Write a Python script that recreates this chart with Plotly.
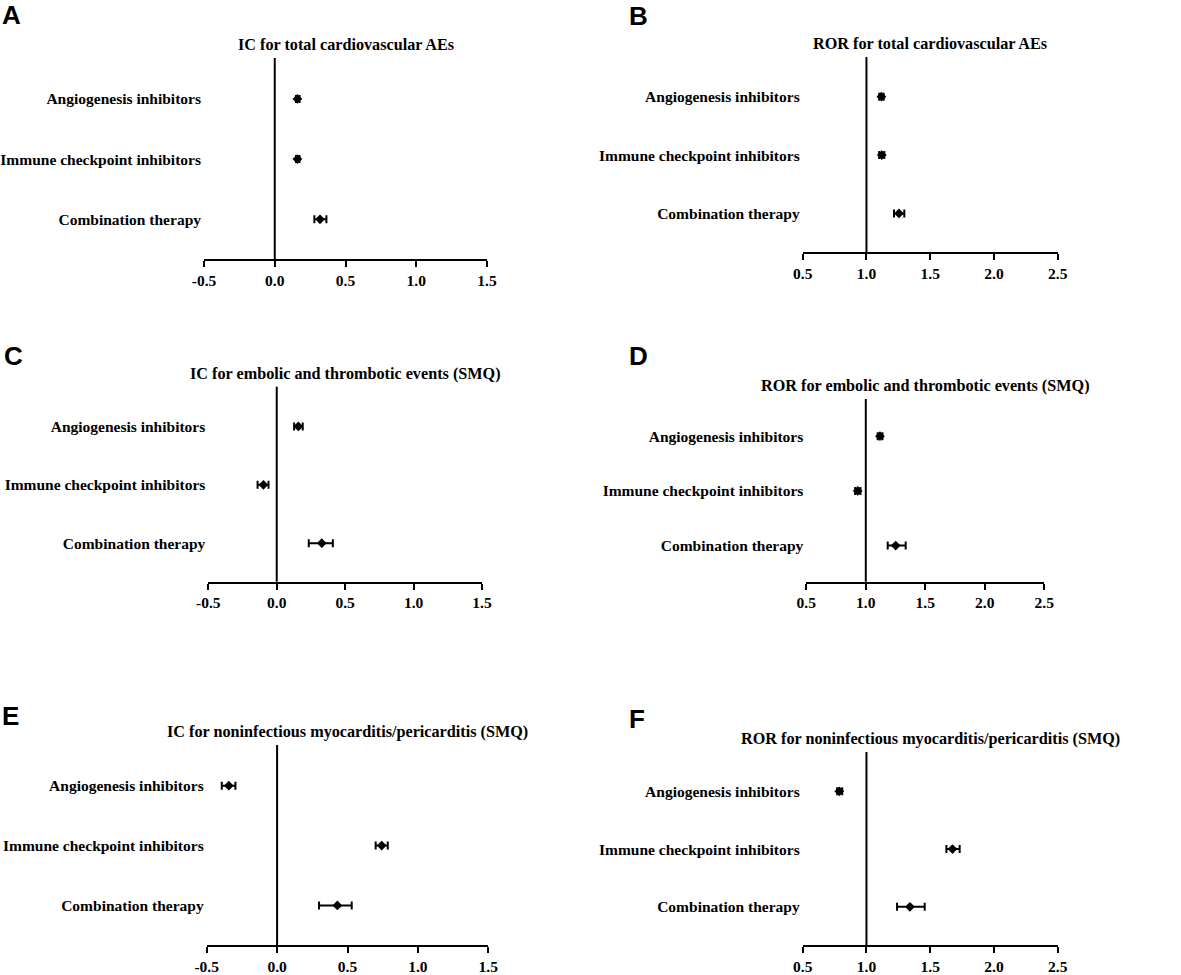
import plotly.graph_objects as go

W, H = 1181, 975

drugs = ["Angiogenesis inhibitors", "Immune checkpoint inhibitors", "Combination therapy"]
rows = [2, 1, 0]

ic_ticks = [-0.5, 0.0, 0.5, 1.0, 1.5]
ic_ticktext = ["-0.5", "0.0", "0.5", "1.0", "1.5"]
ror_ticks = [0.5, 1.0, 1.5, 2.0, 2.5]
ror_ticktext = ["0.5", "1.0", "1.5", "2.0", "2.5"]

# A - IC total cardiovascular
ic_total_est = [0.16, 0.16, 0.32]
ic_total_low = [0.15, 0.15, 0.28]
ic_total_high = [0.175, 0.175, 0.365]
# B - ROR total cardiovascular
ror_total_est = [1.117, 1.12, 1.255]
ror_total_low = [1.10, 1.10, 1.216]
ror_total_high = [1.135, 1.14, 1.297]
# C - IC embolic/thrombotic
ic_emb_est = [0.158, -0.097, 0.329]
ic_emb_low = [0.127, -0.14, 0.234]
ic_emb_high = [0.19, -0.06, 0.41]
# D - ROR embolic/thrombotic
ror_emb_est = [1.119, 0.932, 1.251]
ror_emb_low = [1.10, 0.91, 1.184]
ror_emb_high = [1.14, 0.955, 1.335]
# E - IC myocarditis/pericarditis
ic_myo_est = [-0.343, 0.743, 0.428]
ic_myo_low = [-0.393, 0.70, 0.298]
ic_myo_high = [-0.296, 0.786, 0.53]
# F - ROR myocarditis/pericarditis
ror_myo_est = [0.787, 1.675, 1.341]
ror_myo_low = [0.77, 1.627, 1.24]
ror_myo_high = [0.81, 1.731, 1.457]

panels = [
    dict(letter="A", title="IC for total cardiovascular AEs", est=ic_total_est, low=ic_total_low,
         high=ic_total_high, kind="IC", box=(204, 487, 58, 259), lpos=(0, 15)),
    dict(letter="B", title="ROR for total cardiovascular AEs", est=ror_total_est, low=ror_total_low,
         high=ror_total_high, kind="ROR", box=(802.7, 1057.7, 57, 252), lpos=(627, 16)),
    dict(letter="C", title="IC for embolic and thrombotic events (SMQ)", est=ic_emb_est, low=ic_emb_low,
         high=ic_emb_high, kind="IC", box=(208.3, 482, 386.7, 581.7), lpos=(2, 356)),
    dict(letter="D", title="ROR for embolic and thrombotic events (SMQ)", est=ror_emb_est, low=ror_emb_low,
         high=ror_emb_high, kind="ROR", box=(806.3, 1044.3, 399, 581.7), lpos=(627, 356)),
    dict(letter="E", title="IC for noninfectious myocarditis/pericarditis (SMQ)", est=ic_myo_est, low=ic_myo_low,
         high=ic_myo_high, kind="IC", box=(206.7, 488.3, 745, 945), lpos=(0, 716)),
    dict(letter="F", title="ROR for noninfectious myocarditis/pericarditis (SMQ)", est=ror_myo_est, low=ror_myo_low,
         high=ror_myo_high, kind="ROR", box=(802.7, 1057.7, 752, 945), lpos=(627, 719)),
]

serif = dict(family="Liberation Serif", size=15.5, color="black", weight="bold")
title_font = dict(family="Liberation Serif", size=16.2, color="black", weight="bold")

fig = go.Figure()
layout = {}
shapes = []
annotations = []

for i, p in enumerate(panels, start=1):
    xa = "x" if i == 1 else f"x{i}"
    ya = "y" if i == 1 else f"y{i}"
    x0, x1, ytop, ybot = p["box"]
    if p["kind"] == "IC":
        xr, tv, tt, ref = [-0.5, 1.5], ic_ticks, ic_ticktext, 0
    else:
        xr, tv, tt, ref = [0.5, 2.5], ror_ticks, ror_ticktext, 1

    fig.add_trace(go.Scatter(
        x=p["est"], y=rows, xaxis=xa, yaxis=ya, mode="markers",
        marker=dict(symbol="diamond", size=7.5, color="black"),
        error_x=dict(type="data", symmetric=False,
                     array=[h - e for h, e in zip(p["high"], p["est"])],
                     arrayminus=[e - l for e, l in zip(p["est"], p["low"])],
                     color="black", thickness=2, width=4),
        showlegend=False, hoverinfo="x+y",
    ))

    layout["xaxis" if i == 1 else f"xaxis{i}"] = dict(
        domain=[x0 / W, x1 / W], anchor=ya, range=xr, tickvals=tv, ticktext=tt,
        showgrid=False, zeroline=False, showline=True, linecolor="black", linewidth=2,
        ticks="outside", ticklen=6, tickwidth=2, tickcolor="black", tickfont=serif,
        automargin=False,
    )
    layout["yaxis" if i == 1 else f"yaxis{i}"] = dict(
        domain=[1 - ybot / H, 1 - ytop / H], anchor=xa, range=[-0.66, 2.68],
        tickvals=rows, ticktext=drugs, showgrid=False, zeroline=False, showline=False,
        ticks="", tickfont=serif, ticklabelstandoff=2, automargin=False,
    )

    shapes.append(dict(type="line", xref=xa, yref=f"{ya} domain", x0=ref, x1=ref, y0=0, y1=1,
                       line=dict(color="black", width=2)))

    annotations.append(dict(text=p["title"], xref=f"{xa} domain", yref=f"{ya} domain", x=0.5, y=1,
                            yshift=13, xanchor="center", yanchor="middle", showarrow=False,
                            font=title_font))
    lx, ly = p["lpos"]
    annotations.append(dict(text=p["letter"], xref="paper", yref="paper", x=lx / W, y=1 - ly / H,
                            xanchor="left", yanchor="middle", showarrow=False,
                            font=dict(family="Liberation Sans", size=26, color="black", weight="bold")))

fig.update_layout(
    **layout,
    template="none",
    shapes=shapes,
    annotations=annotations,
    width=W, height=H,
    margin=dict(l=0, r=0, t=0, b=0),
    paper_bgcolor="white", plot_bgcolor="white",
)

fig.write_html("out.html", config={"displayModeBar": False},
               post_script="document.body.style.margin='0';")
